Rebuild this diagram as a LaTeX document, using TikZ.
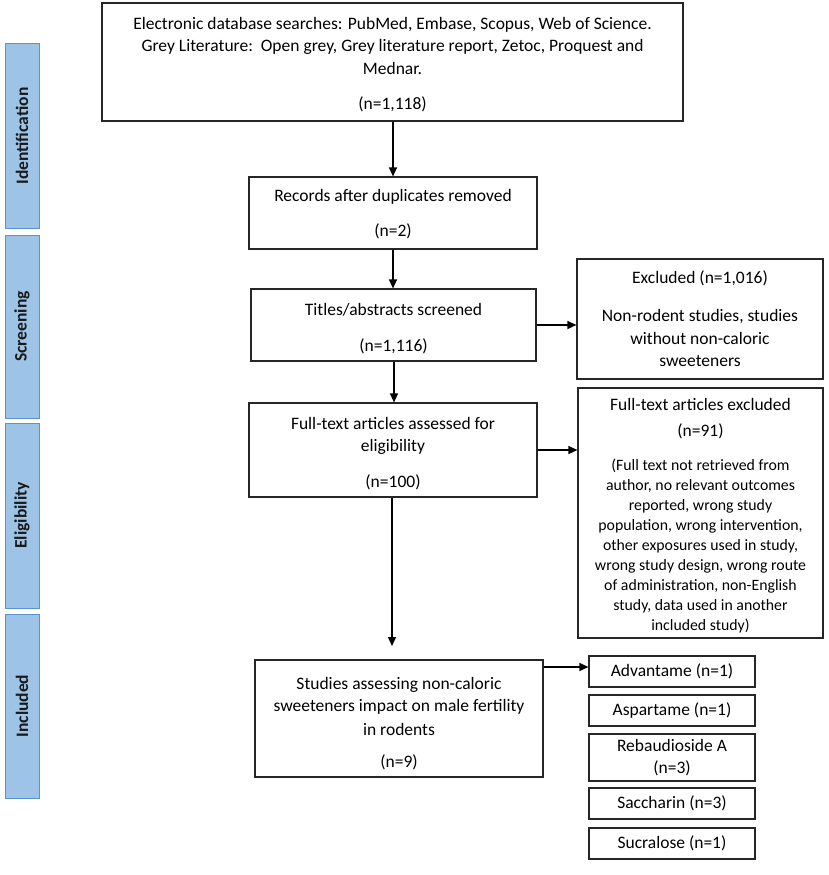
\documentclass[tikz,border=0pt]{standalone}
\usepackage{fontspec}
\setmainfont{Carlito}
\usetikzlibrary{arrows.meta}
\newcommand{\mainsize}{\fontsize{17.5}{22.5}\selectfont}
\newcommand{\detailsize}{\fontsize{15.8}{20}\selectfont}
\newcommand{\topgap}[1]{\rule{0pt}{#1}}
\definecolor{barfill}{RGB}{157,195,230}
\definecolor{barline}{RGB}{91,146,214}
\begin{document}
\begin{tikzpicture}[x=1pt,y=-1pt,
  box/.style={draw=black!85,line width=1.2pt,inner sep=0pt,align=center,font=\mainsize},
  small/.style={box,minimum width=166pt},
  bar/.style={draw=barline,fill=barfill,line width=1pt,rotate=90,minimum height=34pt,inner sep=0pt,font=\mainsize\bfseries,text=black!90},
  arr/.style={line width=1.3pt,-{Triangle[length=9pt,width=8pt]}}]
\useasboundingbox (0,0) rectangle (829,875);
% stage bars
\node[bar,minimum width=184pt] (idbar) at (22,136) {Identification};
\node[bar,minimum width=183pt] (scbar) at (22,326.5) {Screening};
\node[bar,minimum width=185pt] (elbar) at (22,515.5) {Eligibility};
\node[bar,minimum width=184pt] (inbar) at (22,706) {Included};
% main boxes
\node[box,minimum width=581pt,minimum height=118pt] (search) at (392.5,62) {\topgap{16.5pt}Electronic database searches: PubMed, Embase, Scopus, Web of Science.\\ Grey Literature:\ \ Open grey, Grey literature report, Zetoc, Proquest and\\ Mednar.\\[12.5pt] (n=1,118)};
\node[box,minimum width=288pt,minimum height=72pt] (dup) at (393,213) {\topgap{14pt}Records after duplicates removed\\[12.5pt] (n=2)};
\node[box,minimum width=285pt,minimum height=72pt] (screen) at (393.5,325) {\topgap{18.5pt}Titles/abstracts screened\\[13.5pt] (n=1,116)};
\node[box,minimum width=288pt,minimum height=94pt] (full) at (393,450) {\topgap{18.5pt}Full-text articles assessed for\\ eligibility\\[13pt] (n=100)};
\node[box,minimum width=288pt,minimum height=117pt] (incl) at (399,718.5) {\topgap{21.5pt}Studies assessing non-caloric\\ sweeteners impact on male fertility\\[1pt] in rodents\\[9.5pt] (n=9)};
% exclusion boxes
\node[box,minimum width=246pt,minimum height=120pt] (excl) at (700,319) {Excluded (n=1,016)\\[15.5pt] Non-rodent studies, studies\\ without non-caloric\\ sweeteners};
\node[box,minimum width=245pt,minimum height=250pt] (ftex) at (700.5,513) {\topgap{21pt}Full-text articles excluded\\[3.5pt] (n=91)\\[11.5pt] {\detailsize\begin{tabular}[t]{@{}c@{}}(Full text not retrieved from\\ author, no relevant outcomes\\ reported, wrong study\\ population, wrong intervention,\\ other exposures used in study,\\ wrong study design, wrong route\\ of administration, non-English\\ study, data used in another\\ included study)\end{tabular}}};
% sweetener boxes
\node[small,minimum height=31pt] (adv) at (672,671.5) {Advantame (n=1)};
\node[small,minimum height=31pt] (asp) at (672,710.5) {Aspartame (n=1)};
\node[small,minimum height=47pt] (reb) at (672,757.5) {Rebaudioside A\\ (n=3)};
\node[small,minimum height=31pt] (sac) at (672,803.5) {Saccharin (n=3)};
\node[small,minimum height=31pt] (suc) at (672,843.5) {Sucralose (n=1)};
% connectors
\coordinate (xa) at (393,0);
\coordinate (xb) at (394,0);
\coordinate (xc) at (392,0);
\coordinate (tip) at (392,646);
\coordinate (ya) at (0,667);
\draw[arr] (search.south -| xa) -- (dup.north -| xa);
\draw[arr] (dup.south -| xa) -- (screen.north -| xa);
\draw[arr] (screen.south -| xb) -- (full.north -| xb);
\draw[arr] (full.south -| xc) -- (tip);
\draw[arr] (screen.east) -- (excl.west |- screen.east);
\draw[arr] (full.east) -- (ftex.west |- full.east);
\draw[arr] (incl.east |- ya) -- (adv.west |- ya);
\end{tikzpicture}
\end{document}
